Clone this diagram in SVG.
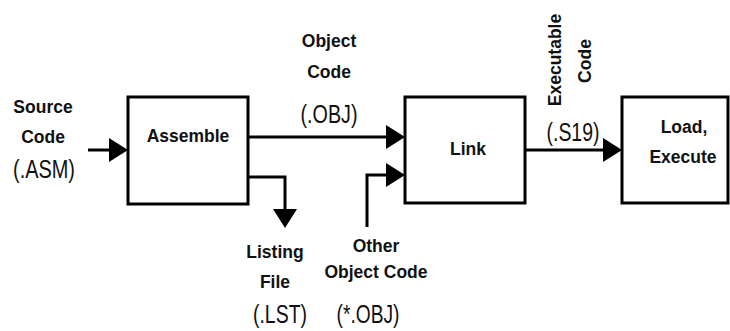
<svg xmlns="http://www.w3.org/2000/svg" width="730" height="331" viewBox="0 0 730 331">
<style>
.box{fill:#fff;stroke:#000;stroke-width:3}
.ln{fill:none;stroke:#000;stroke-width:3;marker-end:url(#ah)}
.b{font-family:"Liberation Sans",Arial,sans-serif;font-weight:bold;font-size:17.5px;fill:#111;text-anchor:middle}
.n{font-family:"Liberation Sans",Arial,sans-serif;font-size:25px;fill:#111;text-anchor:middle}
</style>
<defs>
<marker id="ah" viewBox="0 0 19 24" refX="11" refY="12" markerWidth="19" markerHeight="24" markerUnits="userSpaceOnUse" orient="auto">
<path d="M0,0 L19,12 L0,24 Z" fill="#000"/>
</marker>
</defs>
<rect width="730" height="331" fill="#fff"/>
<g id="connectors">
<path class="ln" d="M88,150 H120"/>
<path class="ln" d="M248,137 H397"/>
<path class="ln" d="M248,177 H285 V220"/>
<path class="ln" d="M367,227 V175 H397"/>
<path class="ln" d="M525,150 H614"/>
</g>
<g id="assemble">
<rect class="box" x="128" y="97" width="120" height="107"/>
<text class="b" x="188" y="142">Assemble</text>
</g>
<g id="link">
<rect class="box" x="405" y="97" width="120" height="106"/>
<text class="b" x="468" y="155">Link</text>
</g>
<g id="load">
<rect class="box" x="622" y="97" width="106" height="106"/>
<text class="b" x="684" y="133">Load,</text>
<text class="b" x="683" y="163">Execute</text>
</g>
<g id="labels">
<text class="b" x="43" y="113">Source</text>
<text class="b" x="43" y="143">Code</text>
<text class="n" x="44" y="178" textLength="62" lengthAdjust="spacingAndGlyphs">(.ASM)</text>
<text class="b" x="329" y="47">Object</text>
<text class="b" x="329" y="78">Code</text>
<text class="n" x="329" y="123" textLength="57" lengthAdjust="spacingAndGlyphs">(.OBJ)</text>
<text class="b" x="275" y="258">Listing</text>
<text class="b" x="275" y="288">File</text>
<text class="n" x="280" y="323" textLength="54" lengthAdjust="spacingAndGlyphs">(.LST)</text>
<text class="b" x="376" y="252">Other</text>
<text class="b" x="376" y="278">Object Code</text>
<text class="n" x="368" y="323" textLength="63" lengthAdjust="spacingAndGlyphs">(*.OBJ)</text>
<text class="b" transform="translate(561,60) rotate(-90)">Executable</text>
<text class="b" transform="translate(591,61) rotate(-90)">Code</text>
<text class="n" x="573" y="141" textLength="53" lengthAdjust="spacingAndGlyphs">(.S19)</text>
</g>
</svg>
